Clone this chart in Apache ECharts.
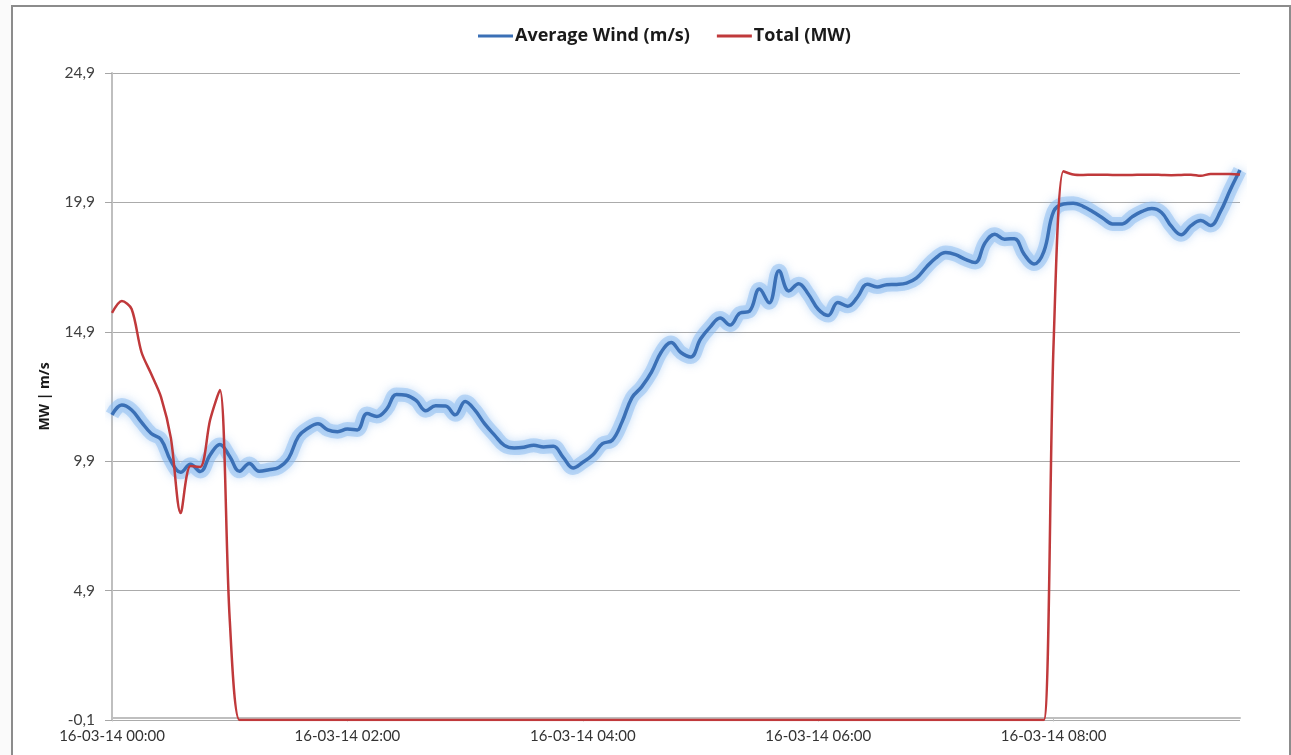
<!DOCTYPE html>
<html>
<head>
<meta charset="utf-8">
<script src="https://cdn.jsdelivr.net/npm/echarts@6/dist/echarts.min.js"></script>
<style>
  html, body { margin: 0; padding: 0; background: #ffffff; }
  #chart { position: absolute; left: 0; top: 0; width: 1291px; height: 755px; }
  #frame { position: absolute; left: 11px; top: 5px; width: 1276px; height: 760px;
           border-left: 2px solid #8c8c8c; border-top: 2px solid #8c8c8c; border-right: 2px solid #8c8c8c;
           pointer-events: none; }
  #side { position: absolute; left: 0; top: 0; width: 11px; height: 755px; background: #fafafa; }
</style>
</head>
<body>
<div id="side"></div>
<div id="chart"></div>
<div id="frame"></div>
<script>
// Series names
const seriesNames = ['Average Wind (m/s)', 'Total (MW)'];

// Y axis tick labels (Excel style, comma decimal)
const yTickLabels = ['-0,1', '4,9', '9,9', '14,9', '19,9', '24,9'];

// Time stamps every 5 minutes, 16-03-14 00:00 .. 09:35
const datePrefix = '16-03-14';
const stepMinutes = 5;
const pointCount = 116;
const categories = [];
for (let i = 0; i < pointCount; i++) {
  const m = i * stepMinutes;
  const hh = String(Math.floor(m / 60)).padStart(2, '0');
  const mm = String(m % 60).padStart(2, '0');
  categories.push(datePrefix + ' ' + hh + ':' + mm);
}

// Average wind (m/s)
const windValues = [
  11.69, 12.07, 11.88, 11.41, 10.97, 10.74, 9.91, 9.47, 9.78, 9.50,
  10.14, 10.55, 10.08, 9.51, 9.81, 9.51, 9.57, 9.66, 10.01, 10.85,
  11.18, 11.35, 11.11, 11.04, 11.14, 11.11, 11.74, 11.63, 11.91, 12.48,
  12.45, 12.25, 11.85, 12.04, 12.03, 11.69, 12.21, 11.87, 11.34, 10.91,
  10.51, 10.41, 10.44, 10.52, 10.45, 10.48, 10.05, 9.64, 9.86, 10.14,
  10.58, 10.71, 11.42, 12.35, 12.77, 13.34, 14.12, 14.49, 14.10, 13.93,
  14.62, 15.09, 15.43, 15.16, 15.62, 15.70, 16.55, 16.02, 17.26, 16.48,
  16.76, 16.35, 15.77, 15.53, 16.03, 15.89, 16.24, 16.74, 16.63, 16.72,
  16.73, 16.78, 16.97, 17.39, 17.76, 17.96, 17.88, 17.70, 17.58, 18.33,
  18.67, 18.48, 18.50, 17.89, 17.52, 18.00, 19.55, 19.84, 19.87, 19.75,
  19.54, 19.30, 19.07, 19.07, 19.34, 19.55, 19.66, 19.51, 18.98, 18.65,
  19.00, 19.20, 19.01, 19.54, 20.38, 21.15
];

// Total production (MW)
const totalValues = [
  15.63, 16.09, 15.78, 14.12, 13.27, 12.38, 10.80, 7.90, 9.71, 9.68,
  11.49, 12.65, 3.80, -0.1, -0.1, -0.1, -0.1, -0.1, -0.1, -0.1,
  -0.1, -0.1, -0.1, -0.1, -0.1, -0.1, -0.1, -0.1, -0.1, -0.1,
  -0.1, -0.1, -0.1, -0.1, -0.1, -0.1, -0.1, -0.1, -0.1, -0.1,
  -0.1, -0.1, -0.1, -0.1, -0.1, -0.1, -0.1, -0.1, -0.1, -0.1,
  -0.1, -0.1, -0.1, -0.1, -0.1, -0.1, -0.1, -0.1, -0.1, -0.1,
  -0.1, -0.1, -0.1, -0.1, -0.1, -0.1, -0.1, -0.1, -0.1, -0.1,
  -0.1, -0.1, -0.1, -0.1, -0.1, -0.1, -0.1, -0.1, -0.1, -0.1,
  -0.1, -0.1, -0.1, -0.1, -0.1, -0.1, -0.1, -0.1, -0.1, -0.1,
  -0.1, -0.1, -0.1, -0.1, -0.1, -0.1, 14.50, 21.10, 20.98, 20.96,
  20.97, 20.97, 20.96, 20.96, 20.96, 20.97, 20.97, 20.96, 20.95, 20.96,
  20.97, 20.93, 21.00, 21.00, 21.00, 20.98
];

const FONT = 'Lato, "Open Sans", sans-serif';
const BOLDFONT = '"Open Sans", Lato, sans-serif';
const chart = echarts.init(document.getElementById('chart'), null, { renderer: 'canvas' });

chart.setOption({
  animation: false,
  backgroundColor: 'transparent',
  legend: {
    left: 478,
    top: 27,
    padding: 0,
    itemWidth: 35,
    itemHeight: 3,
    itemGap: 27,
    icon: 'rect',
    textStyle: { fontFamily: BOLDFONT, fontWeight: 'bold', fontSize: 18, color: '#1a1a1a', padding: [0, 0, 0, -3] },
    data: [
      { name: seriesNames[0], icon: 'rect', itemStyle: { color: '#3b70b6' } },
      { name: seriesNames[1], icon: 'rect', itemStyle: { color: '#c0393b' } }
    ]
  },
  grid: { left: 112, right: 51, top: 73, bottom: 35, containLabel: false },
  xAxis: {
    type: 'category',
    boundaryGap: false,
    data: categories,
    axisLine: { lineStyle: { color: '#bfbfbf', width: 2 } },
    axisTick: { show: true, interval: 23, length: 4, lineStyle: { color: '#bfbfbf' } },
    axisLabel: { interval: 23, fontFamily: FONT, fontSize: 15, color: '#333333', margin: 9 },
    splitLine: { show: false }
  },
  yAxis: {
    type: 'value',
    min: -0.1,
    max: 24.9,
    interval: 5,
    name: 'MW | m/s',
    nameLocation: 'middle',
    nameGap: 60,
    nameRotate: 90,
    nameTextStyle: { fontFamily: BOLDFONT, fontWeight: 'bold', fontSize: 14, color: '#1a1a1a' },
    axisLine: { show: true, lineStyle: { color: '#bfbfbf', width: 2 } },
    axisTick: { show: true, length: 7, lineStyle: { color: '#a6a6a6' } },
    axisLabel: {
      fontFamily: FONT, fontSize: 15.5, color: '#404040', margin: 17,
      formatter: function (v) {
        const idx = yTickLabels.indexOf(v.toFixed(1).replace('.', ','));
        return idx >= 0 ? yTickLabels[idx] : v.toFixed(1).replace('.', ',');
      }
    },
    splitLine: { show: true, lineStyle: { color: '#ababab', width: 1 } }
  },
  series: [
    {
      // soft glow under the wind line (same data, styling layer only)
      name: seriesNames[0] + ' glow',
      type: 'line',
      data: windValues,
      smooth: 0.4,
      symbol: 'none',
      silent: true,
      z: 1,
      lineStyle: {
        color: 'rgba(135,185,240,0.5)', width: 14,
        shadowColor: 'rgba(135,185,240,0.9)', shadowBlur: 10
      }
    },
    {
      name: seriesNames[0],
      type: 'line',
      data: windValues,
      smooth: 0.4,
      symbol: 'none',
      z: 2,
      itemStyle: { color: '#3b70b6' },
      lineStyle: { color: '#3b70b6', width: 3.5 }
    },
    {
      name: seriesNames[1],
      type: 'line',
      data: totalValues,
      smooth: 0.3,
      symbol: 'none',
      z: 3,
      itemStyle: { color: '#c0393b' },
      lineStyle: { color: '#c0393b', width: 2.5 }
    }
  ]
});
</script>
</body>
</html>
